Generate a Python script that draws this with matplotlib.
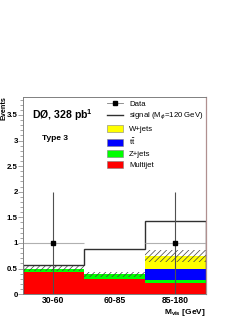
import numpy as np
import matplotlib
matplotlib.use('Agg')
import matplotlib.pyplot as plt
from matplotlib.ticker import MultipleLocator
from matplotlib.patches import Patch
from matplotlib.lines import Line2D

#=============================================================================#
# Data #
#=============================================================================#
bins = ['30-60', '60-85', '85-180']
multijet = [0.44, 0.30, 0.21]
zjets = [0.06, 0.09, 0.07]
ttbar = [0.00, 0.00, 0.21]
wjets = [0.00, 0.00, 0.26]
bkg_err = [0.05, 0.05, 0.12]
signal = [0.57, 0.88, 1.42]
data = [1.0, np.nan, 1.0]
data_err = [1.0, 0.0, 1.0]
#=============================================================================#

plt.rcParams['font.family'] = ['Liberation Sans', 'DejaVu Sans']
plt.rcParams['hatch.linewidth'] = 0.5
plt.rcParams['hatch.color'] = '#404040'

fig = plt.figure(figsize=(2.47, 3.19), dpi=100)
ax = fig.add_axes([0.093, 0.078, 0.741, 0.618])

x = np.arange(len(bins))
edges = np.arange(len(bins) + 1)

# stacked backgrounds
bottom = np.zeros(len(bins))
for vals, col in [(multijet, '#ff0000'), (zjets, '#00ff00'),
                  (ttbar, '#0000ff'), (wjets, '#ffff00')]:
    ax.bar(x, vals, width=1, bottom=bottom, align='edge', color=col,
           linewidth=0)
    bottom = bottom + np.array(vals)
total = bottom

# uncertainty band
ax.bar(x, 2 * np.array(bkg_err), width=1, bottom=total - np.array(bkg_err),
       align='edge', facecolor='none', hatch='//////', linewidth=0)

# signal
ax.stairs(signal, edges, color='#303030', linewidth=1.0)

# data points
xc = x + 0.5
ax.errorbar(xc, data, xerr=0.5, fmt='none', ecolor='#b0b0b0', elinewidth=0.8)
ax.errorbar(xc, data, yerr=data_err, fmt='s', color='black', ms=3.5,
            ecolor='#505050', elinewidth=0.8, capsize=0)

ax.set_xlim(0, 3)
ax.set_ylim(0, 3.85)
ax.set_xticks(xc)
ax.set_xticklabels(bins, fontsize=6.2, fontweight='bold')
ax.tick_params(axis='x', length=0, pad=1.5)
ax.yaxis.set_major_locator(MultipleLocator(0.5))
ax.yaxis.set_minor_locator(MultipleLocator(0.1))
ax.set_yticks([0, 0.5, 1, 1.5, 2, 2.5, 3, 3.5])
ax.set_yticklabels(['0', '0.5', '1', '1.5', '2', '2.5', '3', '3.5'],
                   fontsize=5.7, fontweight='bold')
ax.tick_params(axis='y', which='major', length=3.5, width=0.5, pad=0.3,
               color='#808080')
ax.tick_params(axis='y', which='minor', length=2, width=0.5, color='#808080')
for s in ['left', 'top', 'bottom']:
    ax.spines[s].set_color('#808080')
    ax.spines[s].set_linewidth(0.7)
ax.spines['right'].set_color('#b09090')
ax.spines['right'].set_linewidth(0.9)

fig.text(0.016, 0.698, 'Events', rotation=90, ha='center', va='top',
         fontsize=5.2, fontweight='bold')
fig.text(0.834, 0.002, r'M$_{\mathregular{vis}}$ [GeV]', ha='right',
         va='bottom', fontsize=6, fontweight='bold')

ax.text(0.05, 0.91, r'DØ, 328 pb$^{\mathregular{1}}$', transform=ax.transAxes,
        fontsize=7.6, fontweight='bold', va='center')
ax.text(0.105, 0.79, 'Type 3', transform=ax.transAxes, fontsize=6,
        fontweight='bold', va='center')

handles = [
    Line2D([], [], color='#808080', marker='s', mfc='black', mec='black',
           ms=3, lw=0.6),
    Line2D([], [], color='#303030', lw=1.0),
    Patch(facecolor='#ffff00', edgecolor='#808080', linewidth=0.4),
    Patch(facecolor='#0000ff', edgecolor='#808080', linewidth=0.4),
    Patch(facecolor='#00ff00', edgecolor='#808080', linewidth=0.4),
    Patch(facecolor='#ff0000', edgecolor='#808080', linewidth=0.4),
]
labels = ['Data', r'signal (M$_{\phi}$=120 GeV)', 'W+jets', r't$\bar{\mathregular{t}}$',
          'Z+jets', 'Multijet']
ax.legend(handles, labels, loc='upper left', bbox_to_anchor=(0.44, 1.0),
          frameon=False, fontsize=5.6, handlelength=2.1, handleheight=1.0,
          labelspacing=0.38, handletextpad=0.8, borderaxespad=0)

fig.savefig('out.png', dpi=100)
